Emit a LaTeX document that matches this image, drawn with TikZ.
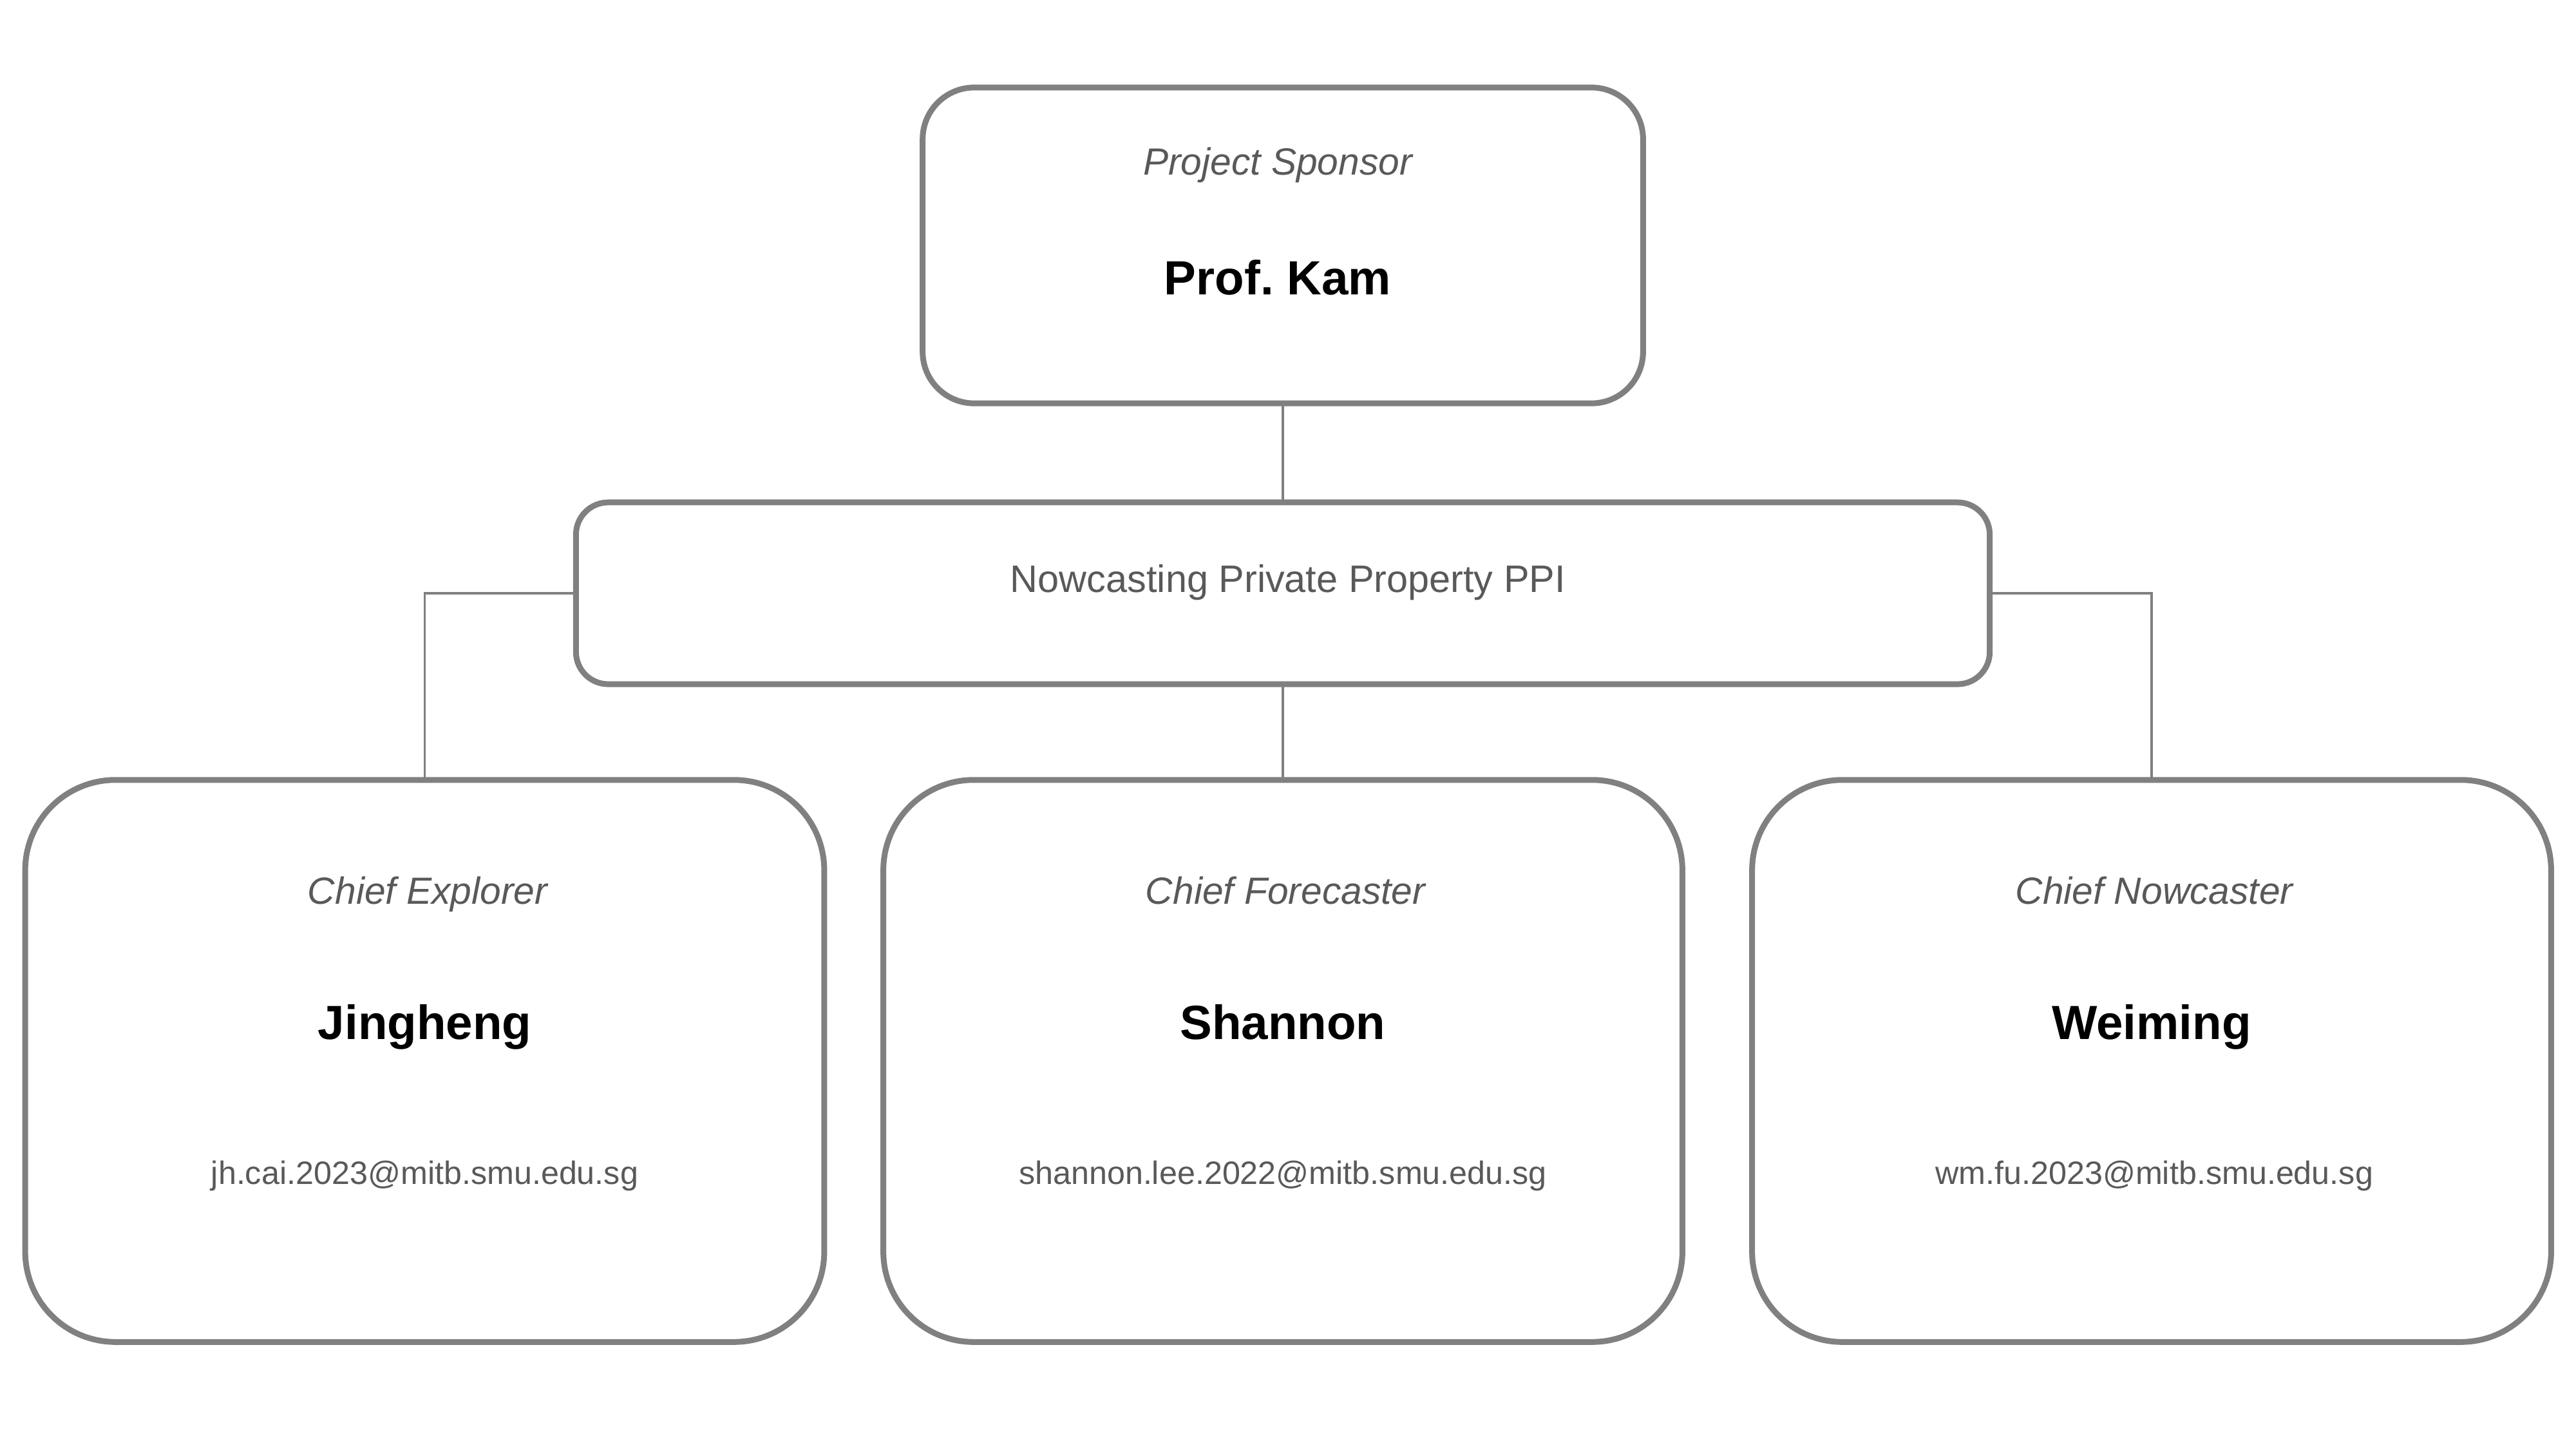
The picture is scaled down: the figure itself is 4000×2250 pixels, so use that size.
\documentclass[tikz,border=0pt]{standalone}
\usepackage{fontspec}
\setmainfont{Liberation Sans}
\frenchspacing
\definecolor{ln}{HTML}{808080}
\definecolor{tx}{HTML}{595959}
\tikzset{
  box/.style={draw=ln, line width=2.56pt, fill=white, inner sep=0pt, outer sep=0pt},
  topbox/.style={box, minimum width=11.18cm, minimum height=4.90cm, rounded corners=0.8cm},
  midbox/.style={box, minimum width=21.94cm, minimum height=2.82cm, rounded corners=0.5cm},
  botbox/.style={box, minimum width=12.40cm, minimum height=8.72cm, rounded corners=1.4cm},
  conn/.style={draw=ln, line width=1.1pt},
  role/.style={anchor=base, inner sep=0pt, text=tx, font=\fontsize{16.7}{20}\selectfont\itshape},
  who/.style={anchor=base, inner sep=0pt, text=black, font=\fontsize{21.2}{25}\selectfont\bfseries},
  mail/.style={anchor=base, inner sep=0pt, text=tx, font=\fontsize{14.3}{17}\selectfont},
  title/.style={anchor=base, inner sep=0pt, text=tx, font=\fontsize{16.9}{20}\selectfont}
}
\begin{document}
\begin{tikzpicture}[x=0.01cm, y=-0.01cm]
\useasboundingbox[fill=white] (0,0) rectangle (4000,2250);
% boxes
\node[topbox] (top) at (1992,381) {};
\node[midbox] (mid) at (1992,921) {};
\node[botbox] (left) at (659.5,1647) {};
\node[botbox] (center) at (1992,1647) {};
\node[botbox] (right) at (3341,1647) {};
% connectors
\draw[conn] (top.south) -- (mid.north);
\draw[conn] (mid.west) -| (left.north);
\draw[conn] (mid.east) -| (right.north);
\draw[conn] (mid.south) -- (center.north);
% texts
\node[role] (t1) at (1984,271) {Project Sponsor};
\node[who] (t2) at (1984,457) {Prof. Kam};
\node[title] (t3) at (2000,919) {Nowcasting Private Property PPI};
\node[role] (l1) at (664,1403) {Chief Explorer};
\node[who] (l2) at (659.5,1613) {Jingheng};
\node[mail] (l3) at (659.5,1838) {jh.cai.2023@mitb.smu.edu.sg};
\node[role] (c1) at (1996,1403) {Chief Forecaster};
\node[who] (c2) at (1992,1613) {Shannon};
\node[mail] (c3) at (1992,1838) {shannon.lee.2022@mitb.smu.edu.sg};
\node[role] (r1) at (3345,1403) {Chief Nowcaster};
\node[who] (r2) at (3341,1613) {Weiming};
\node[mail] (r3) at (3345,1838) {wm.fu.2023@mitb.smu.edu.sg};
\end{tikzpicture}
\end{document}
